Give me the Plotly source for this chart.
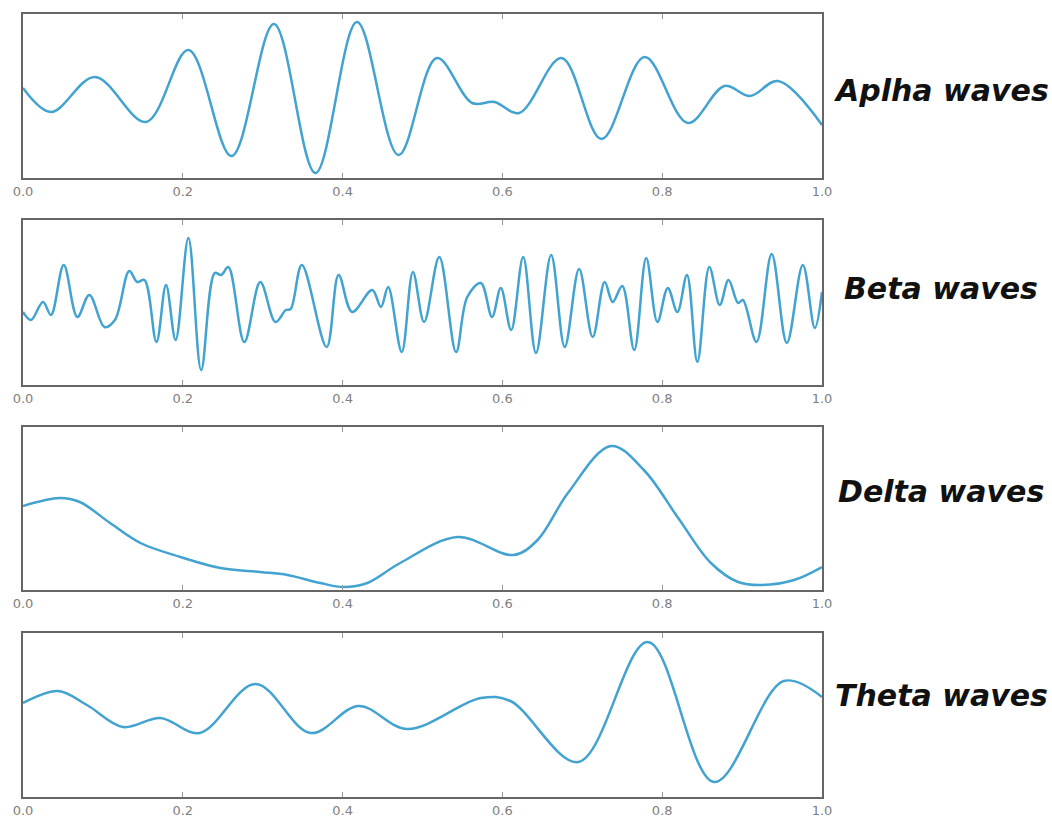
import plotly.graph_objects as go

# ---- data ----
alpha_x = [0.000, 0.035, 0.090, 0.154, 0.207, 0.261, 0.314, 0.366, 0.418, 0.470,
           0.518, 0.562, 0.590, 0.621, 0.674, 0.724, 0.778, 0.832, 0.878, 0.910,
           0.945, 1.000]
alpha_y = [90, 66, 101, 56, 128, 22, 154, 5, 156, 23,
           120, 75, 76, 65, 120, 39, 121, 55, 92, 82,
           97, 53]

beta_x = [0.000, 0.010, 0.025, 0.035, 0.051, 0.068, 0.083, 0.102, 0.115, 0.133,
          0.143, 0.152, 0.167, 0.179, 0.191, 0.207, 0.223, 0.240, 0.248, 0.257,
          0.277, 0.297, 0.316, 0.329, 0.335, 0.349, 0.380, 0.395, 0.412, 0.437,
          0.448, 0.457, 0.474, 0.488, 0.502, 0.521, 0.542, 0.556, 0.573, 0.587,
          0.598, 0.611, 0.626, 0.642, 0.661, 0.678, 0.696, 0.713, 0.728, 0.738,
          0.750, 0.765, 0.780, 0.794, 0.807, 0.819, 0.831, 0.844, 0.859, 0.872,
          0.883, 0.895, 0.901, 0.918, 0.937, 0.956, 0.976, 0.991, 1.000]
beta_y = [73, 65, 83, 70, 120, 68, 90, 58, 65, 114,
          103, 105, 43, 100, 45, 147, 15, 112, 110, 118,
          43, 103, 63, 75, 76, 120, 38, 110, 73, 95,
          78, 98, 33, 113, 63, 128, 33, 88, 102, 68,
          97, 55, 128, 32, 130, 38, 116, 48, 103, 83,
          99, 35, 127, 63, 97, 73, 110, 23, 118, 80,
          105, 82, 85, 43, 131, 42, 120, 57, 93]

delta_x = [0.000, 0.046, 0.071, 0.109, 0.147, 0.197, 0.247, 0.297, 0.331, 0.372,
           0.401, 0.431, 0.472, 0.544, 0.614, 0.644, 0.682, 0.736, 0.777, 0.820,
           0.861, 0.895, 0.924, 0.965, 1.000]
delta_y = [84, 92, 88, 67, 47, 33, 22, 18, 15, 7,
           3, 7, 27, 53, 35, 50, 97, 144, 120, 72,
           27, 8, 5, 10, 23]

theta_x = [0.000, 0.044, 0.080, 0.125, 0.172, 0.221, 0.291, 0.360, 0.420, 0.481,
           0.573, 0.610, 0.695, 0.782, 0.865, 0.952, 1.000]
theta_y = [94, 106, 92, 70, 79, 64, 113, 64, 91, 68,
           99, 96, 35, 155, 15, 116, 100]

labels = ["Aplha waves", "Beta waves", "Delta waves", "Theta waves"]
tick_vals = [0.0, 0.2, 0.4, 0.6, 0.8, 1.0]
tick_text = ["0.0", "0.2", "0.4", "0.6", "0.8", "1.0"]
y_ranges = [[0, 164], [0, 165], [0, 163], [0, 164]]

# ---- layout geometry ----
W, H = 1052, 817
panels_px = [(14, 178), (220, 385), (427, 590), (633, 797)]
label_px = [90, 288, 492, 695]
x_dom = [23 / W, 822 / W]

series = [(alpha_x, alpha_y), (beta_x, beta_y), (delta_x, delta_y), (theta_x, theta_y)]

fig = go.Figure()
line_color = "#42a2d0"
frame_color = "#666666"

for i, (xs, ys) in enumerate(series):
    n = "" if i == 0 else str(i + 1)
    fig.add_trace(go.Scatter(
        x=xs, y=ys, mode="lines",
        line=dict(color=line_color, width=2.5, shape="spline", smoothing=1.0),
        xaxis="x" + n, yaxis="y" + n, showlegend=False, hoverinfo="skip"))
    top, bot = panels_px[i]
    fig.layout["xaxis" + n] = dict(
        domain=x_dom, anchor="y" + n, range=[0, 1], automargin=False,
        tickvals=tick_vals, ticktext=tick_text,
        ticks="inside", ticklen=5, tickwidth=1, tickcolor="#999",
        showline=True, linecolor=frame_color, linewidth=2, mirror="allticks",
        showgrid=False, zeroline=False,
        tickfont=dict(family="DejaVu Sans", size=13, color="#808080"))
    fig.layout["yaxis" + n] = dict(
        domain=[1 - bot / H, 1 - top / H], anchor="x" + n, range=y_ranges[i],
        automargin=False, showticklabels=False, ticks="",
        showline=True, linecolor=frame_color, linewidth=2, mirror=True,
        showgrid=False, zeroline=False)
    fig.add_annotation(
        text="<b><i>" + labels[i] + "</i></b>", xref="paper", yref="paper",
        x=941 / W, y=1 - label_px[i] / H, xanchor="center", yanchor="middle",
        showarrow=False,
        font=dict(family="DejaVu Sans", size=30, color="#111111"))

fig.update_layout(
    width=W, height=H, margin=dict(l=0, r=0, t=0, b=0),
    paper_bgcolor="white", plot_bgcolor="white")

fig.write_html(
    "out.html",
    config={"displayModeBar": False},
    post_script="document.body.style.margin='0px';document.body.style.overflow='hidden';")
